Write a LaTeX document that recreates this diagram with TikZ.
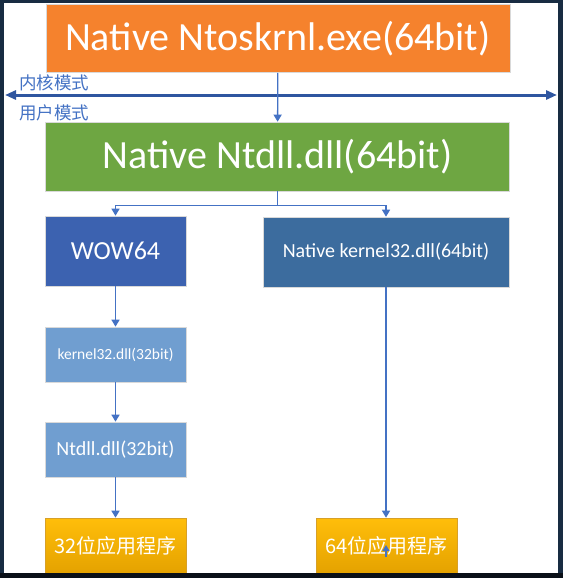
\documentclass[tikz,border=0pt]{standalone}
\usepackage{fontspec}
\setmainfont{Carlito}
\newfontfamily\cjk{Noto Sans CJK SC}
\usetikzlibrary{arrows.meta}
\definecolor{frameC}{RGB}{24,44,66}
\definecolor{frameB}{RGB}{10,16,24}
\definecolor{orangeC}{RGB}{245,130,45}
\definecolor{greenC}{RGB}{110,166,66}
\definecolor{wowC}{RGB}{60,98,176}
\definecolor{nkC}{RGB}{60,108,158}
\definecolor{lightC}{RGB}{112,158,208}
\definecolor{goldA}{RGB}{255,190,10}
\definecolor{goldB}{RGB}{228,162,0}
\definecolor{goldE}{RGB}{215,160,40}
\definecolor{lineC}{RGB}{68,114,196}
\definecolor{modeC}{RGB}{47,86,160}
\tikzset{
  box/.style={inner sep=0pt, text=white, align=center, draw=white!85!black, line width=0.6pt},
  gold/.style={box, draw=goldE, top color=goldA, bottom color=goldB},
  conn/.style={draw=lineC, line width=1.3pt, -{Triangle[width=8pt,length=7pt]}},
  modeline/.style={draw=modeC, line width=3pt, {Triangle[width=9pt,length=11pt]}-{Triangle[width=9pt,length=11pt]}},
  modelabel/.style={anchor=west, inner sep=0pt, text=lineC, font=\cjk\fontsize{17.5}{19}\selectfont}
}
\begin{document}
\begin{tikzpicture}[x=1pt,y=-1pt]
\useasboundingbox (0,0) rectangle (563,578);
\fill[frameC] (0,0) rectangle (563,578);
\fill[white] (4,3) rectangle (558,573);

\node[box, fill=orangeC, minimum width=464pt, minimum height=68pt, font=\fontsize{40}{47}\selectfont] (os) at (277.8,38.7) {Native Ntoskrnl.exe(64bit)};
\node[box, fill=greenC, minimum width=464pt, minimum height=69pt, font=\fontsize{40}{47}\selectfont] (nt) at (277.6,156.5) {Native Ntdll.dll(64bit)};
\node[box, fill=wowC, minimum width=141pt, minimum height=70pt, font=\fontsize{26}{31}\selectfont] (wow) at (115.5,251) {WOW64};
\node[box, fill=nkC, minimum width=246pt, minimum height=70pt, font=\fontsize{20}{24}\selectfont] (nk) at (386,252) {Native kernel32.dll(64bit)};
\node[box, fill=lightC, minimum width=141pt, minimum height=55pt, font=\fontsize{15.5}{19}\selectfont] (k32) at (115.5,354.5) {kernel32.dll(32bit)};
\node[box, fill=lightC, minimum width=141pt, minimum height=55pt, font=\fontsize{20}{24}\selectfont] (nt32) at (115.5,449.5) {Ntdll.dll(32bit)};
\node[gold, minimum width=141pt, minimum height=56pt, font=\cjk\fontsize{20}{24}\selectfont] (a32) at (115.5,546) {32位应用程序};
\node[gold, minimum width=141pt, minimum height=56pt, font=\cjk\fontsize{20}{24}\selectfont] (a64) at (386.5,546) {64位应用程序};

\coordinate (mL) at (5,95);
\coordinate (mR) at (557,95);
\draw[modeline] (mL) -- (mR);
\node[modelabel] (km) at (19,83) {内核模式};
\node[modelabel] (um) at (19,113) {用户模式};

\draw[conn] (os.south) -- (nt.north);
\draw[conn] (nt.south) -- ++(0,14) -| (wow.north);
\draw[conn] (nt.south) -- ++(0,14) -| (nk.north);
\draw[conn] (wow.south) -- (k32.north);
\draw[conn] (k32.south) -- (nt32.north);
\draw[conn] (nt32.south) -- (a32.north);
\draw[conn] (nk.south) -- (a64.north -| nk.south);
\coordinate (u1) at (386,557);
\coordinate (u2) at (386,545);
\draw[draw=lineC, line width=1.3pt, -{Triangle[width=7pt,length=6pt]}] (u1) -- (u2);

\fill[frameB] (0,573) rectangle (563,578);
\end{tikzpicture}
\end{document}
